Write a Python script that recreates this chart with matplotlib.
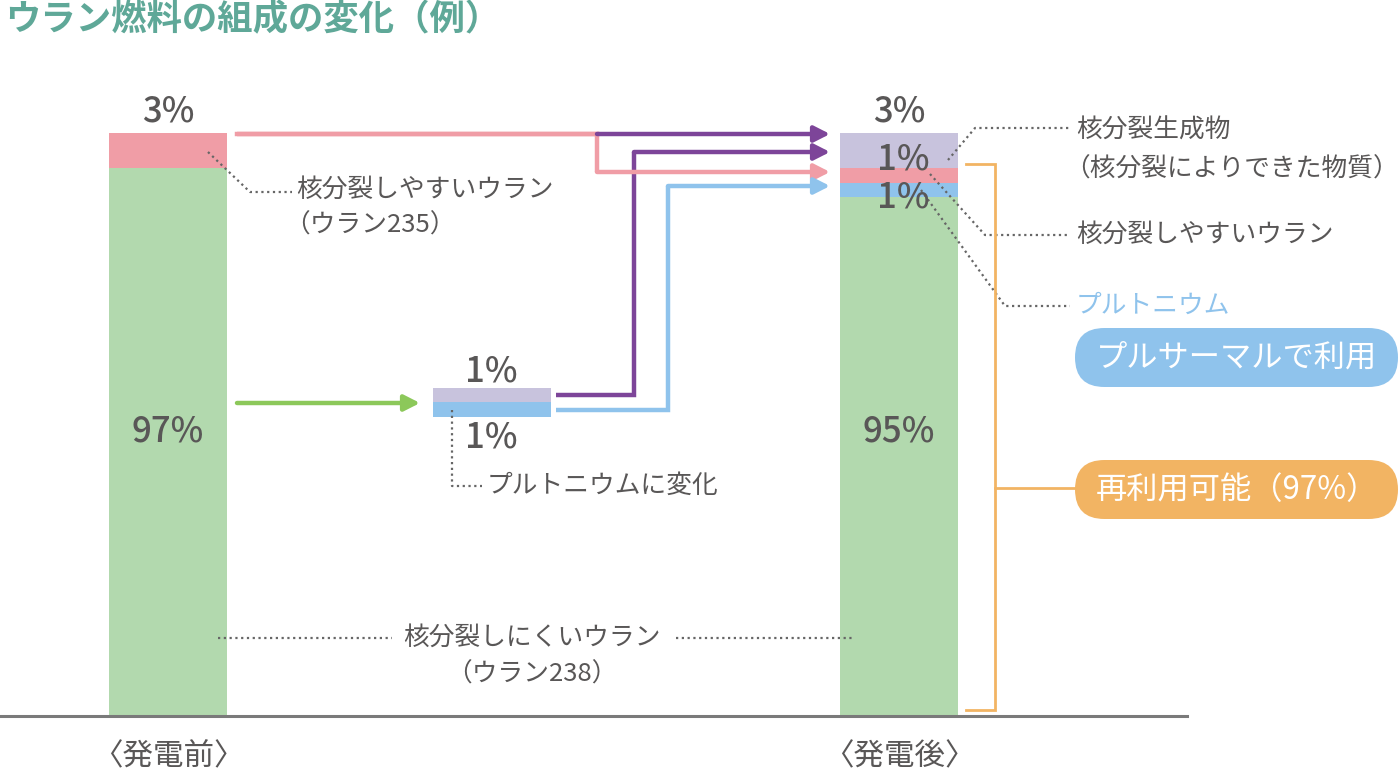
import matplotlib
matplotlib.use('Agg')
import matplotlib.pyplot as plt
from matplotlib.patches import FancyBboxPatch

plt.rcParams['font.family'] = ['Noto Sans CJK JP', 'DejaVu Sans']

# data (percent)
before_parts = ['ウラン238', 'ウラン235']
before_vals = [97, 3]
after_parts = ['ウラン238', 'プルトニウム', 'ウラン235', '核分裂生成物']
after_vals = [95, 1, 1, 3]
mid_parts = ['プルトニウム', 'プルトニウム(生成物側)']
mid_vals = [1, 1]
stage_labels = ['〈発電前〉', '〈発電後〉']

GREEN = '#b2d9ae'
PINK = '#f09da6'
LAV = '#c8c3dd'
BLUE = '#8fc3ec'
PURPLE = '#7d4599'
ORANGE = '#f2b463'
ARROW_GREEN = '#8cc85a'
TEAL = '#5fa898'
TXT = '#595757'
DOT = '#666666'

before_colors = [GREEN, PINK]
after_colors = [GREEN, BLUE, PINK, LAV]
mid_colors = [BLUE, LAV]


def shown(v):
    # small components are drawn enlarged so they stay visible
    return 1.75 * v + 0.75


def stack(vals):
    minor = [shown(v) for v in vals[1:]]
    return [100 - sum(minor)] + minor


fig = plt.figure(figsize=(14, 7.72), dpi=100)

# bar axes: y 0..100 spans pixel rows 716..133
ax_bar = fig.add_axes([0, (772 - 716) / 772, 1, 583 / 772])
ax_bar.set_xlim(0, 1400)
ax_bar.set_ylim(0, 100)
ax_bar.axis('off')

# overlay axes in pixel units for annotations
ax = fig.add_axes([0, 0, 1, 1], zorder=2)
ax.set_xlim(0, 1400)
ax.set_ylim(772, 0)
ax.axis('off')
ax.patch.set_alpha(0)


def draw_stack(xc, vals, colors, base=0):
    bottom = base
    for h, c in zip(stack(vals) if base == 0 else [shown(v) for v in vals], colors):
        ax_bar.bar(xc, h, width=118, bottom=bottom, color=c, linewidth=0)
        bottom += h


draw_stack(168, before_vals, before_colors)
draw_stack(899, after_vals, after_colors)
draw_stack(492, mid_vals, mid_colors, base=51.3)

# baseline
ax.plot([0, 1187], [716, 716], color='#7a7a7a', lw=2.2)

# title
ax.text(5, 20, 'ウラン燃料の組成の変化（例）', fontsize=25.5, fontweight='bold',
        color=TEAL, va='center', ha='left')

# percent labels
pct_kw = dict(fontsize=25, color=TXT, ha='center', va='center', fontweight='medium')
ax.text(168, 111, f'{before_vals[1]}%', **pct_kw)
ax.text(168, 431, f'{before_vals[0]}%', **pct_kw)
ax.text(899, 111, f'{after_vals[3]}%', **pct_kw)
ax.text(899, 431, f'{after_vals[0]}%', **pct_kw)
ax.text(903, 160, f'{after_vals[2]}%', **pct_kw)
ax.text(903, 197, f'{after_vals[1]}%', **pct_kw)
ax.text(491, 372, f'{mid_vals[1]}%', **pct_kw)
ax.text(491, 437, f'{mid_vals[0]}%', **pct_kw)

# stage labels
for xc, lab in zip([168, 899], stage_labels):
    ax.text(xc, 757, lab, fontsize=22, color=TXT, ha='center', va='center')


def route(xs, ys, color):
    ax.plot(xs[:-1], ys[:-1], color=color, lw=3.2, solid_joinstyle='miter',
            solid_capstyle='butt')
    ax.annotate('', xy=(xs[-1], ys[-1]), xytext=(xs[-2], ys[-2]),
                arrowprops=dict(arrowstyle='-|>,head_length=0.55,head_width=0.28',
                                color=color, lw=3.2, mutation_scale=17,
                                shrinkA=0, shrinkB=0))


# flow arrows
route([237, 597, 597, 830], [134, 134, 172, 172], PINK)
ax.plot([237, 597], [134, 134], color=PINK, lw=3.2)
route([597, 830], [134, 134], PURPLE)
route([556, 634, 634, 830], [395, 395, 152, 152], PURPLE)
route([556, 668, 668, 830], [410, 410, 186, 186], BLUE)
route([237, 420], [403, 403], ARROW_GREEN)

# dotted leader lines
dot_kw = dict(color=DOT, lw=1.6, linestyle=(0, (1, 1.6)))
ax.plot([208, 250, 292], [152, 192, 192], **dot_kw)
ax.plot([452, 452, 482], [410, 486, 486], **dot_kw)
ax.plot([948, 975, 1070], [160, 128, 128], **dot_kw)
ax.plot([930, 985, 1070], [174, 235, 235], **dot_kw)
ax.plot([921, 1005, 1070], [190, 306, 306], **dot_kw)
ax.plot([218, 392], [638, 638], **dot_kw)
ax.plot([676, 852], [638, 638], **dot_kw)

lab_kw = dict(fontsize=18.5, color=TXT, va='center', ha='left')
ax.text(296, 190, '核分裂しやすいウラン', **lab_kw)
ax.text(284, 226, '（ウラン235）', **lab_kw)
ax.text(487, 486, 'プルトニウムに変化', **lab_kw)
ax.text(1076, 131, '核分裂生成物', **lab_kw)
ax.text(1064, 170, '（核分裂によりできた物質）', **lab_kw)
ax.text(1076, 235, '核分裂しやすいウラン', **lab_kw)
ax.text(1076, 306, 'プルトニウム', fontsize=18.5, color=BLUE, va='center', ha='left')
ax.text(532, 638, '核分裂しにくいウラン', fontsize=18.5, color=TXT, va='center', ha='center')
ax.text(532, 675, '（ウラン238）', fontsize=18.5, color=TXT, va='center', ha='center')

# orange bracket for reusable part
ax.plot([966, 995, 995, 966], [164, 164, 710, 710], color=ORANGE, lw=2,
        solid_joinstyle='miter')
ax.plot([995, 1078], [488, 488], color=ORANGE, lw=2)

# pills
for y0, color, lab in [(328, BLUE, 'プルサーマルで利用'),
                       (460, ORANGE, '再利用可能（97%）')]:
    pill = FancyBboxPatch((1075, y0), 323, 59,
                          boxstyle='round,pad=0,rounding_size=29.5',
                          facecolor=color, edgecolor='none')
    ax.add_patch(pill)
    ax.text(1075 + 323 / 2, y0 + 29.5, lab, fontsize=22.5, color='white',
            ha='center', va='center')

fig.savefig('out.png', dpi=100)
